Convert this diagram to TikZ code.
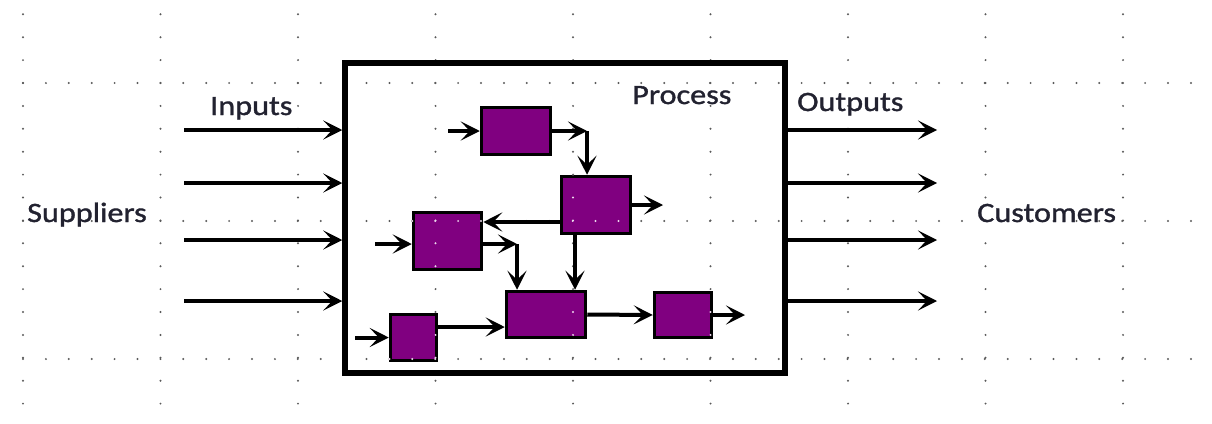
\documentclass[tikz,border=0pt]{standalone}
\usepackage{fontspec}
\setmainfont{Carlito}[FakeStretch=1.15,FakeBold=1.2]
\usetikzlibrary{arrows.meta,calc}
\definecolor{boxpurple}{RGB}{128,0,128}
\definecolor{txt}{RGB}{34,34,48}
\definecolor{griddot}{RGB}{90,90,90}
\newcommand{\mygriddots}[1]{%
  \foreach \k in {0,...,8}{
    \foreach \j in {-3,...,14}{
      \fill[#1] ({23+137.5*\k},{83+22.9*\j}) circle (1.1);
    }
  }
  \foreach \i in {0,1,2}{
    \foreach \m in {0,...,51}{
      \fill[#1] ({23+22.9*\m},{83+138*\i}) circle (1.1);
    }
  }}
\begin{document}
\begin{tikzpicture}[x=1pt,y=-1pt,
  pbox/.style={draw=black,line width=3.5pt,fill=boxpurple,inner sep=0pt},
  mainbox/.style={draw=black,line width=5.5pt,inner sep=0pt},
  arr/.style={line width=4pt,-{Stealth[length=19pt,width=19pt,inset=9pt]}},
  lbl/.style={font=\fontsize{28}{32}\selectfont,text=txt,inner sep=0pt},
  gdot/.style={fill=griddot,draw=none},
  wdot/.style={fill=white!85!boxpurple,draw=none}]
\useasboundingbox (0,0) rectangle (1212,423);
\fill[white] (0,0) rectangle (1212,423);
% dotted grid
\mygriddots{gdot}
% main process box
\node[mainbox,minimum width=440pt,minimum height=310pt] (proc) at (565,218) {};
% inner boxes
\node[pbox,minimum width=69pt,minimum height=47pt] (A) at (516,131) {};
\node[pbox,minimum width=69pt,minimum height=57pt] (B) at (596,205) {};
\node[pbox,minimum width=68pt,minimum height=57pt] (C) at (447.5,241) {};
\node[pbox,minimum width=79pt,minimum height=46pt] (D) at (546,314.5) {};
\node[pbox,minimum width=57pt,minimum height=45pt] (E) at (683,315) {};
\node[pbox,minimum width=46pt,minimum height=46pt] (F) at (413.5,337.5) {};
% grid dots showing through the boxes
\begin{scope}
  \clip (A.north west) rectangle (A.south east)
        (B.north west) rectangle (B.south east)
        (C.north west) rectangle (C.south east)
        (D.north west) rectangle (D.south east)
        (E.north west) rectangle (E.south east)
        (F.north west) rectangle (F.south east);
  \mygriddots{wdot}
\end{scope}
% labels
\node[lbl,anchor=base west] (tin) at (210,115) {Inputs};
\node[lbl,anchor=base west] (tsup) at (27,222) {Suppliers};
\node[lbl,anchor=base west] (tout) at (797,111) {Outputs};
\node[lbl,anchor=base west] (tcus) at (977,222) {Customers};
\node[lbl,anchor=base west] (tproc) at (632,104) {Process};
% input / output arrows
\foreach \y/\n in {130/1,183/2,240/3,301/4}{
  \coordinate (in\n) at (184,\y);
  \coordinate (out\n) at (937,\y);
  \draw[arr,line width=4.5pt] (in\n) -- (in\n -| proc.west);
  \draw[arr,line width=4.5pt] (out\n -| proc.east) -- (out\n);
}
% inner connectors
\coordinate (a1) at (448,131);
\coordinate (c2) at (587,131);
\coordinate (b3) at (663,205);
\coordinate (m4) at (0,222);
\coordinate (c5) at (375,244);
\coordinate (c6) at (517,244);
\coordinate (c7) at (575,0);
\coordinate (c8) at (355,337.5);
\coordinate (m9) at (0,327);
\coordinate (e11) at (745,315);
\draw[arr] (a1) -- (A.west);
\draw[arr] (A.east) -- (c2);
\draw[arr] (c2) -- (c2 |- B.north);
\draw[arr] (B.east) -- (b3);
\draw[arr] (B.west |- m4) -- (C.east |- m4);
\draw[arr] (c5) -- (c5 -| C.west);
\draw[arr] (c6 -| C.east) -- (c6);
\draw[arr] (c6) -- (c6 |- D.north);
\draw[arr] (c7 |- B.south) -- (c7 |- D.north);
\draw[arr] (c8) -- (F.west);
\draw[arr] (F.east |- m9) -- (D.west |- m9);
\draw[arr] (D.east) -- (E.west);
\draw[arr] (E.east) -- (e11);
\end{tikzpicture}
\end{document}
